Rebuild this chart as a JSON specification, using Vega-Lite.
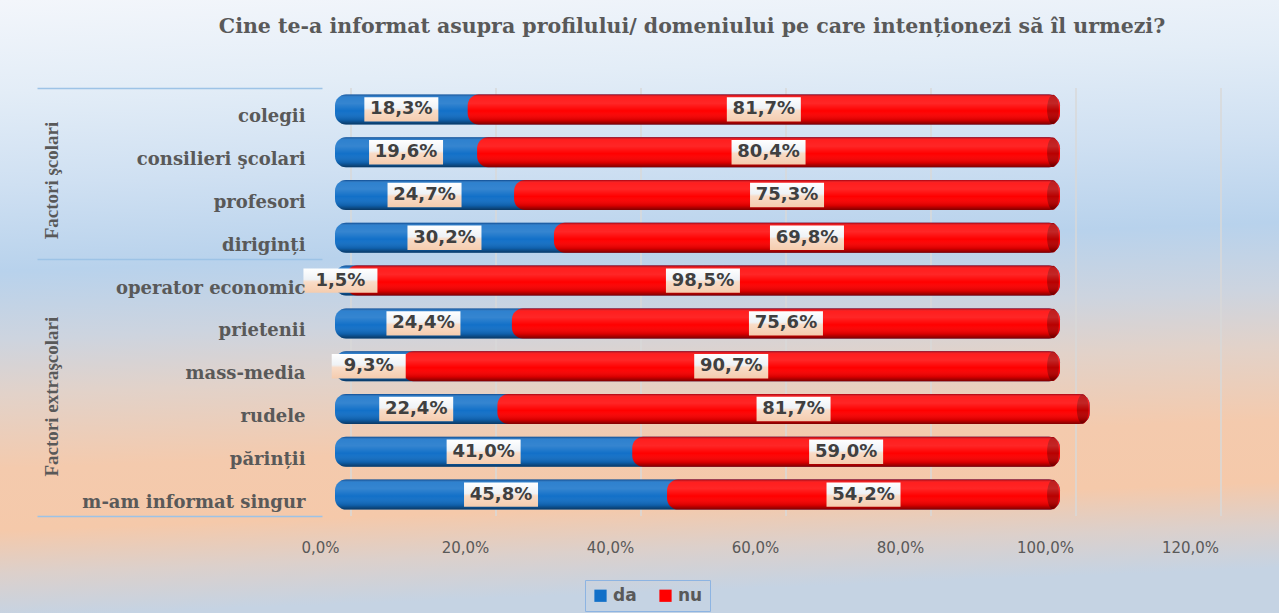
{
  "$schema": "https://vega.github.io/schema/vega-lite/v6.json",
  "width": 870,
  "height": 428,
  "autosize": {"type": "none"},
  "padding": {"left": 335, "top": 88, "right": 74, "bottom": 97},
  "background": "#dfe6ee",
  "title": {
    "text": "Cine te-a informat asupra profilului/ domeniului pe care intenționezi să îl urmezi?",
    "font": "DejaVu Serif",
    "fontSize": 20.5,
    "fontWeight": "bold",
    "color": "#595959",
    "anchor": "middle",
    "frame": "group",
    "dx": -78,
    "offset": -38
  },
  "config": {
    "view": {"stroke": null},
    "locale": {"number": {"decimal": ",", "thousands": ".", "grouping": [3], "currency": ["", " lei"]}}
  },
  "resolve": {"scale": {"y": "independent"}, "axis": {"y": "independent"}},
  "layer": [
    {
      "layer": [
        {
          "data": {"values": [{"k": 1}]},
          "mark": {
            "type": "rect",
            "clip": false,
            "fill": {
              "gradient": "linear",
              "x1": 0, "y1": 0, "x2": 0.08, "y2": 1,
              "stops": [
                {"offset": 0, "color": "#f3f6fb"},
                {"offset": 0.15, "color": "#e3edf7"},
                {"offset": 0.3, "color": "#cfe0f2"},
                {"offset": 0.44, "color": "#b8d2ec"},
                {"offset": 0.55, "color": "#cdd4df"},
                {"offset": 0.64, "color": "#e2d2c9"},
                {"offset": 0.76, "color": "#f4caad"},
                {"offset": 0.86, "color": "#f5c9aa"},
                {"offset": 0.93, "color": "#dcd0cb"},
                {"offset": 1, "color": "#c5d3e3"}
              ]
            }
          },
          "encoding": {
            "x": {"datum": -0.463, "type": "quantitative", "scale": {"domain": [0, 1.2], "nice": false}, "title": null},
            "x2": {"datum": 1.303},
            "y": {"datum": -2.06, "type": "quantitative", "scale": {"domain": [0, 10], "reverse": true, "nice": false, "zero": false}, "title": null},
            "y2": {"datum": 12.27}
          }
        },
        {
          "data": {"values": [{"g": 0}, {"g": 0.2}, {"g": 0.4}, {"g": 0.6}, {"g": 0.8}, {"g": 1.0}, {"g": 1.2}]},
          "mark": {"type": "rule", "xOffset": 16, "color": "#d8d8d8", "strokeWidth": 1.5},
          "encoding": {
            "x": {"field": "g", "type": "quantitative", "title": null}
          }
        },
        {
          "data": {"values": [{"p": 2.15}, {"p": 7.2}]},
          "mark": {"type": "point", "opacity": 0},
          "encoding": {
            "x": {"datum": 0, "type": "quantitative", "title": null},
            "y": {
              "field": "p",
              "type": "quantitative",
              "title": null,
              "axis": {
                "orient": "left",
                "offset": 13,
                "values": [0, 2.15, 4, 7.2, 10],
                "domain": false,
                "grid": false,
                "ticks": true,
                "tickSize": 285,
                "tickWidth": 1.5,
                "tickColor": {"condition": {"test": "datum.value == 2.15 || datum.value == 7.2", "value": "transparent"}, "value": "#9dc3e6"},
                "labelExpr": "datum.value == 2.15 ? 'Factori şcolari' : datum.value == 7.2 ? 'Factori extraşcolari' : ''",
                "labelAngle": -90,
                "labelAlign": "center",
                "labelBaseline": "alphabetic",
                "labelPadding": -20,
                "labelOverlap": false,
                "labelFont": "Liberation Serif",
                "labelFontSize": 19,
                "labelFontWeight": "bold",
                "labelColor": "#595959",
                "zindex": 1
              }
            }
          }
        }
      ]
    },
    {
      "data": {
        "values": [
          {"c": "colegii", "r": "da", "v": 0.183}, {"c": "colegii", "r": "nu", "v": 0.817},
          {"c": "consilieri şcolari", "r": "da", "v": 0.196}, {"c": "consilieri şcolari", "r": "nu", "v": 0.804},
          {"c": "profesori", "r": "da", "v": 0.247}, {"c": "profesori", "r": "nu", "v": 0.753},
          {"c": "diriginți", "r": "da", "v": 0.302}, {"c": "diriginți", "r": "nu", "v": 0.698},
          {"c": "operator economic", "r": "da", "v": 0.015}, {"c": "operator economic", "r": "nu", "v": 0.985},
          {"c": "prietenii", "r": "da", "v": 0.244}, {"c": "prietenii", "r": "nu", "v": 0.756},
          {"c": "mass-media", "r": "da", "v": 0.093}, {"c": "mass-media", "r": "nu", "v": 0.907},
          {"c": "rudele", "r": "da", "v": 0.224}, {"c": "rudele", "r": "nu", "v": 0.817},
          {"c": "părinții", "r": "da", "v": 0.410}, {"c": "părinții", "r": "nu", "v": 0.590},
          {"c": "m-am informat singur", "r": "da", "v": 0.458}, {"c": "m-am informat singur", "r": "nu", "v": 0.542}
        ]
      },
      "transform": [
        {"stack": "v", "groupby": ["c"], "sort": [{"field": "r", "order": "ascending"}], "as": ["v0", "v1"]},
        {"joinaggregate": [{"op": "sum", "field": "v", "as": "tot"}], "groupby": ["c"]}
      ],
      "layer": [
        {
          "transform": [{"filter": "datum.r == 'da'"}],
          "mark": {"type": "bar", "cornerRadius": 11},
          "encoding": {
            "y": {
              "field": "c", "type": "nominal", "title": null,
              "sort": ["colegii", "consilieri şcolari", "profesori", "diriginți", "operator economic", "prietenii", "mass-media", "rudele", "părinții", "m-am informat singur"],
              "scale": {"paddingInner": 0.3, "paddingOuter": 0.15},
              "axis": {
                "orient": "left",
                "domain": false,
                "ticks": false,
                "grid": false,
                "labelFont": "DejaVu Serif",
                "labelFontWeight": "bold",
                "labelFontSize": 18,
                "labelLimit": 320,
                "labelColor": "#595959",
                "labelPadding": 30,
                "labelOffset": 8,
                "zindex": 1
              }
            },
            "x": {
              "field": "v0", "type": "quantitative", "title": null,
              "scale": {"domain": [0, 1.2], "nice": false},
              "axis": {
                "values": [0, 0.2, 0.4, 0.6, 0.8, 1.0, 1.2],
                "format": ".1%",
                "grid": false,
                "domain": false,
                "ticks": false,
                "labelFont": "DejaVu Sans",
                "labelFontSize": 15,
                "labelColor": "#595959",
                "labelPadding": 24,
                "labelOffset": -15,
                "labelFlush": false,
                "zindex": 1
              }
            },
            "x2": {"field": "tot"},
            "color": {
              "field": "r", "type": "nominal",
              "scale": {"domain": ["da", "nu"], "range": ["#1270c8", "#ff0000"]},
              "legend": {
                "orient": "none",
                "legendX": 250,
                "legendY": 492,
                "direction": "horizontal",
                "title": null,
                "symbolType": "square",
                "symbolSize": 150,
                "symbolStrokeWidth": 0,
                "labelFont": "DejaVu Sans",
                "labelFontSize": 17,
                "labelFontWeight": "bold",
                "labelColor": "#595959",
                "strokeColor": "#8db4e2",
                "padding": 7,
                "columnPadding": 20
              }
            }
          }
        },
        {
          "transform": [{"filter": "datum.r == 'nu'"}],
          "mark": {"type": "bar", "cornerRadius": 11},
          "encoding": {
            "y": {"field": "c", "type": "nominal", "title": null, "sort": ["colegii", "consilieri şcolari", "profesori", "diriginți", "operator economic", "prietenii", "mass-media", "rudele", "părinții", "m-am informat singur"]},
            "x": {"field": "v0", "type": "quantitative", "title": null},
            "x2": {"field": "v1"},
            "color": {"field": "r", "type": "nominal"}
          }
        },
        {
          "transform": [{"filter": "datum.r == 'nu'"}],
          "mark": {
            "type": "point",
            "filled": true,
            "opacity": 1,
            "fill": "#b80000",
            "shape": "M0,-1A0.4,1,0,1,1,0,1A0.4,1,0,1,1,0,-1Z",
            "size": 870,
            "xOffset": -7
          },
          "encoding": {
            "y": {"field": "c", "type": "nominal", "title": null, "sort": ["colegii", "consilieri şcolari", "profesori", "diriginți", "operator economic", "prietenii", "mass-media", "rudele", "părinții", "m-am informat singur"]},
            "x": {"field": "tot", "type": "quantitative", "title": null}
          }
        },
        {
          "transform": [{"filter": "datum.r == 'da'"}],
          "mark": {
            "type": "bar",
            "cornerRadius": 11,
            "fill": {
              "gradient": "linear",
              "x1": 0, "y1": 0, "x2": 0, "y2": 1,
              "stops": [
                {"offset": 0, "color": "rgba(0,0,40,0.35)"},
                {"offset": 0.1, "color": "rgba(255,255,255,0.12)"},
                {"offset": 0.3, "color": "rgba(255,255,255,0.15)"},
                {"offset": 0.55, "color": "rgba(255,255,255,0)"},
                {"offset": 0.85, "color": "rgba(0,0,0,0.15)"},
                {"offset": 1, "color": "rgba(0,0,0,0.5)"}
              ]
            }
          },
          "encoding": {
            "y": {"field": "c", "type": "nominal", "title": null, "sort": ["colegii", "consilieri şcolari", "profesori", "diriginți", "operator economic", "prietenii", "mass-media", "rudele", "părinții", "m-am informat singur"]},
            "x": {"field": "v0", "type": "quantitative", "title": null},
            "x2": {"field": "tot"}
          }
        },
        {
          "transform": [{"fold": ["v0", "v1"], "as": ["k", "e"]}],
          "layer": [
            {
              "mark": {
                "type": "point",
                "filled": true,
                "opacity": 1,
                "shape": "M-1,-0.33H1V0.33H-1Z",
                "size": 5476,
                "fill": {
                  "gradient": "linear",
                  "x1": 0, "y1": 0, "x2": 0, "y2": 1,
                  "stops": [
                    {"offset": 0, "color": "#ffffff"},
                    {"offset": 0.45, "color": "#eef2f6"},
                    {"offset": 0.55, "color": "#f8dcc8"},
                    {"offset": 1, "color": "#f5ccae"}
                  ]
                }
              },
              "encoding": {
                "y": {"field": "c", "type": "nominal", "title": null, "sort": ["colegii", "consilieri şcolari", "profesori", "diriginți", "operator economic", "prietenii", "mass-media", "rudele", "părinții", "m-am informat singur"]},
                "x": {"aggregate": "mean", "field": "e", "type": "quantitative", "title": null},
                "detail": {"field": "r", "type": "nominal"}
              }
            },
            {
              "mark": {"type": "text", "font": "DejaVu Sans", "fontWeight": "bold", "fontSize": 18, "color": "#404040", "baseline": "middle"},
              "encoding": {
                "y": {"field": "c", "type": "nominal", "title": null, "sort": ["colegii", "consilieri şcolari", "profesori", "diriginți", "operator economic", "prietenii", "mass-media", "rudele", "părinții", "m-am informat singur"]},
                "x": {"aggregate": "mean", "field": "e", "type": "quantitative", "title": null},
                "detail": {"field": "r", "type": "nominal"},
                "text": {"field": "v", "type": "quantitative", "format": ".1%"}
              }
            }
          ]
        }
      ]
    }
  ]
}
